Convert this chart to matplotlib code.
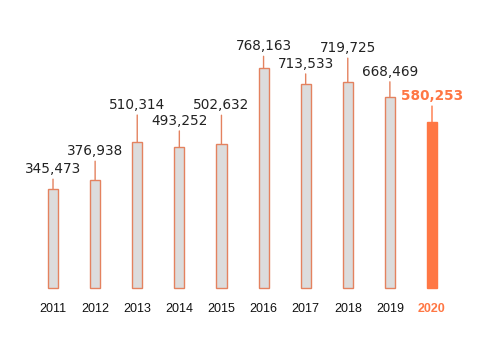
import matplotlib.pyplot as plt

years = ["2011", "2012", "2013", "2014", "2015", "2016", "2017", "2018", "2019", "2020"]
values = [345473, 376938, 510314, 493252, 502632, 768163, 713533, 719725, 668469, 580253]

# Сдвиг подписи над столбцом (пиксели)
label_offsets = [20, 29, 37, 26, 39, 22, 20, 34, 25, 26]

EDGE = "#e4825f"
FILL = "#dcdcdc"
HIGHLIGHT = "#ff7744"
TEXT = "#222222"

fig = plt.figure(figsize=(4.8, 3.4), dpi=100)
ax = fig.add_axes([0, 0, 1, 1])

x = list(range(len(years)))
last = len(years) - 1
fills = [HIGHLIGHT if i == last else FILL for i in x]
edges = [HIGHLIGHT if i == last else EDGE for i in x]

ax.bar(x, values, width=0.24, color=fills, edgecolor=edges, linewidth=1.0)

for i, (v, off) in enumerate(zip(values, label_offsets)):
    col = HIGHLIGHT if i == last else TEXT
    weight = "bold" if i == last else "normal"
    # Выноска от столбца к подписи
    ax.annotate(
        "",
        xy=(i, v),
        xytext=(0, off - 10),
        textcoords="offset pixels",
        arrowprops=dict(arrowstyle="-", color=EDGE if i != last else HIGHLIGHT,
                        linewidth=1.0, shrinkA=0, shrinkB=0),
    )
    ax.annotate(
        f"{v:,}",
        xy=(i, v),
        xytext=(0, off),
        textcoords="offset pixels",
        ha="center",
        va="center",
        fontsize=9.8,
        color=col,
        fontweight=weight,
        family=["DejaVu Sans"],
    )
    # Подпись года под столбцом
    ax.annotate(
        years[i],
        xy=(i, 0),
        xytext=(0, -21),
        textcoords="offset pixels",
        ha="center",
        va="center",
        fontsize=9.0,
        color=HIGHLIGHT if i == last else "#111111",
        fontweight="bold" if i == last else "normal",
        family=["Liberation Sans", "DejaVu Sans"],
    )

ax.set_xlim(-1.259, 10.14)
ax.set_ylim(-181800, 1007000)
ax.axis("off")

fig.savefig("out.png", dpi=100)
